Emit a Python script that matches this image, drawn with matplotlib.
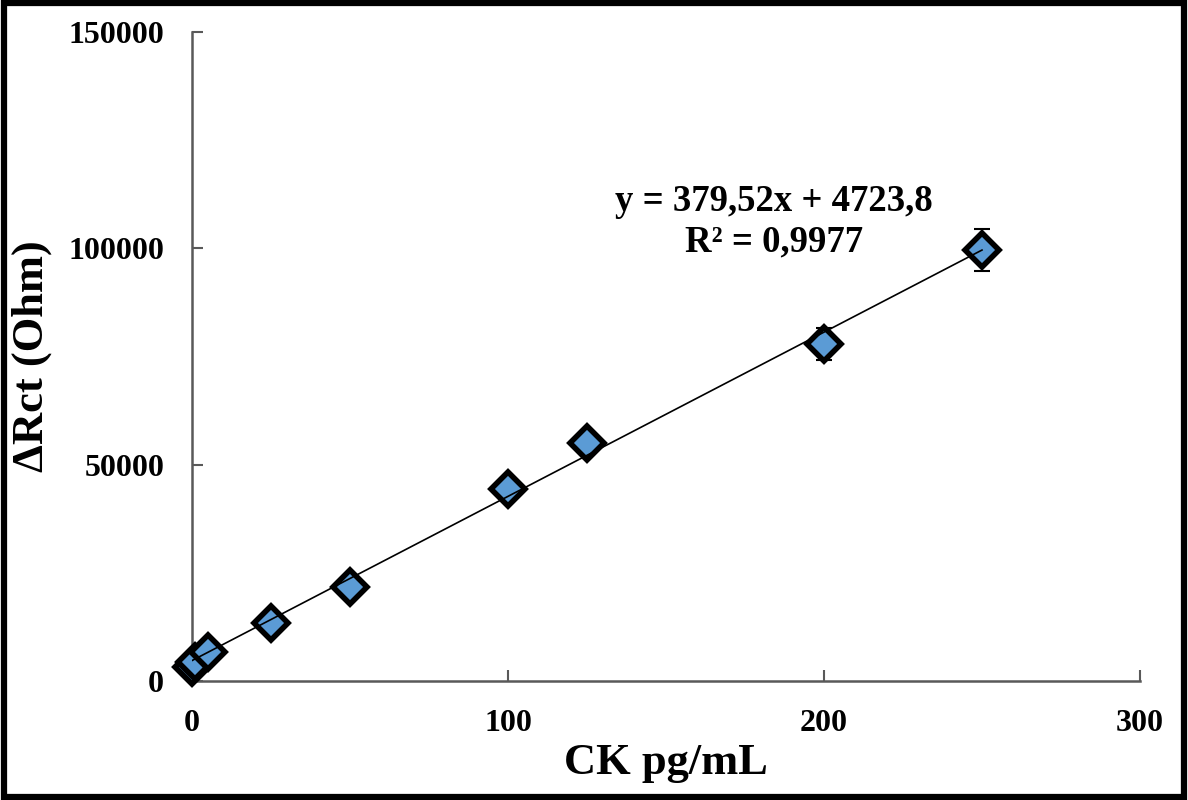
import matplotlib
matplotlib.use("Agg")
import matplotlib.pyplot as plt
import numpy as np
from matplotlib.patches import Rectangle

# Data
conc = [0.1, 1, 5, 25, 50, 100, 125, 200, 250]
delta_rct = [3300, 4500, 6700, 13400, 21700, 44300, 55000, 77800, 99600]
errors = [0, 0, 0, 0, 0, 0, 0, 3700, 4800]
slope = 379.52
intercept = 4723.8
x_ticks = [0, 100, 200, 300]
y_ticks = [0, 50000, 100000, 150000]

plt.rcParams['font.family'] = ['Liberation Serif', 'DejaVu Serif']
plt.rcParams['font.weight'] = 'bold'

fig = plt.figure(figsize=(11.88, 8), dpi=100)
ax = fig.add_axes([192/1188, 1-681/800, (1140-192)/1188, (681-32)/800])

fit_x = np.array([0, 250])
ax.plot(fit_x, slope*fit_x + intercept, color='black', lw=1.2, zorder=4)

ax.errorbar(conc, delta_rct, yerr=errors, fmt='none', ecolor='black',
            elinewidth=1.5, capsize=6, capthick=1.5, zorder=2)
ax.plot(conc, delta_rct, linestyle='none', marker='D', markersize=17,
        markerfacecolor='#5B9BD5', markeredgecolor='black', markeredgewidth=4,
        zorder=3, clip_on=False)

ax.set_xlim(0, 300)
ax.set_ylim(0, 150000)
ax.set_xticks(x_ticks)
ax.set_yticks(y_ticks)
ax.tick_params(axis='both', direction='in', length=8, width=1.5, color='#595959',
               labelsize=23)
ax.tick_params(axis='y', pad=20)
ax.tick_params(axis='x', pad=20)
for lab in ax.get_xticklabels() + ax.get_yticklabels():
    lab.set_fontweight('bold')

for s in ['top', 'right']:
    ax.spines[s].set_visible(False)
for s in ['left', 'bottom']:
    ax.spines[s].set_color('#595959')
    ax.spines[s].set_linewidth(1.8)

ax.set_xlabel('CK pg/mL', fontsize=32, fontweight='bold', labelpad=4)
ax.set_ylabel('ΔRct (Ohm)', fontsize=32, fontweight='bold', labelpad=12)

ax.text(0.614, 0.707, 'y = 379,52x + 4723,8\nR² = 0,9977', transform=ax.transAxes,
        ha='center', va='center', fontsize=26.5, fontweight='bold', linespacing=1.2)

fig.patches.append(Rectangle((0.003, 0.004), 0.994, 0.992, transform=fig.transFigure,
                             fill=False, edgecolor='black', linewidth=4.5))

fig.savefig('out.png', dpi=100)
